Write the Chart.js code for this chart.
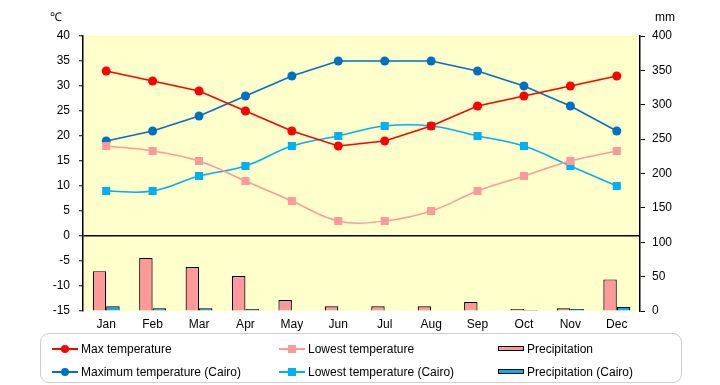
<!DOCTYPE html>
<html>
<head>
<meta charset="utf-8">
<script src="https://cdn.jsdelivr.net/npm/chart.js@4.4.1/dist/chart.umd.min.js"></script>
<style>
  body { margin: 0; background: #fff; font-family: "Liberation Sans", Arial, sans-serif; }
  #wrap { position: relative; width: 720px; height: 385px; }
  #legend {
    position: absolute; left: 40px; top: 333px; width: 642px; height: 50px;
    border: 1.5px solid #cccccc; border-radius: 9px; box-sizing: border-box;
  }
  .item { position: absolute; font-size: 12px; color: #000; height: 14px; line-height: 14px; white-space: nowrap; }
  .sample { position: absolute; left: 0; top: 0; width: 26px; height: 14px; }
  .line { position: absolute; left: 0; top: 6px; width: 26px; height: 1.5px; }
  .mark { position: absolute; left: 9px; top: 3px; width: 8px; height: 8px; }
  .box { position: absolute; left: 0; top: 4px; width: 26px; height: 5px; border: 1.2px solid #000; box-sizing: border-box; }
  .txt { position: absolute; left: 29px; top: 0; }
</style>
</head>
<body>
<div id="wrap">
  <canvas id="chart" width="720" height="385"></canvas>
  <div id="legend"></div>
</div>
<script>
const months = ['Jan', 'Feb', 'Mar', 'Apr', 'May', 'Jun', 'Jul', 'Aug', 'Sep', 'Oct', 'Nov', 'Dec'];
const maxTemp = [33, 31, 29, 25, 21, 18, 19, 22, 26, 28, 30, 32];
const minTemp = [18, 17, 15, 11, 7, 3, 3, 5, 9, 12, 15, 17];
const cairoMax = [19, 21, 24, 28, 32, 35, 35, 35, 33, 30, 26, 21];
const cairoMin = [9, 9, 12, 14, 18, 20, 22, 22, 20, 18, 14, 10];
const rain = [58, 77, 64, 51, 16, 7, 7, 7, 13, 3, 4, 46];
const cairoRain = [7, 4, 4, 3, 0, 0, 0, 0, 0, 1.5, 3, 6];
const tempTicks = { min: -15, max: 40, step: 5 };
const rainTicks = { min: 0, max: 400, step: 50 };

const RED = '#ff0000', PINK = '#ff9999', BLUE = '#0070c0', CYAN = '#00b0f0';

// yellow plot background and axis unit labels
const plotDeco = {
  id: 'plotDeco',
  beforeDraw(chart) {
    const { ctx, chartArea: a } = chart;
    ctx.save();
    ctx.fillStyle = '#ffffcc';
    ctx.fillRect(a.left, a.top, a.right - a.left, a.bottom - a.top);
    ctx.strokeStyle = '#ffff99';
    ctx.lineWidth = 1;
    ctx.beginPath();
    ctx.moveTo(a.left, a.top + 0.5);
    ctx.lineTo(a.right, a.top + 0.5);
    ctx.stroke();
    ctx.restore();
  },
  afterDraw(chart) {
    const { ctx } = chart;
    ctx.save();
    ctx.fillStyle = '#000';
    ctx.font = '12px "Liberation Sans", Arial, sans-serif';
    ctx.textBaseline = 'middle';
    ctx.textAlign = 'left';
    ctx.fillText('℃', 50, 18);
    ctx.fillText('mm', 655, 18);
    ctx.restore();
  }
};

const tickFont = { family: '"Liberation Sans", Arial, sans-serif', size: 12 };

new Chart(document.getElementById('chart'), {
  data: {
    labels: months,
    datasets: [
      { type: 'line', label: 'Max temperature', data: maxTemp, yAxisID: 'y', order: 1,
        borderColor: RED, backgroundColor: RED, borderWidth: 1.5, tension: 0,
        pointStyle: 'circle', pointRadius: 4.5, pointBorderWidth: 0 },
      { type: 'line', label: 'Lowest temperature', data: minTemp, yAxisID: 'y', order: 1,
        borderColor: PINK, backgroundColor: PINK, borderWidth: 1.5, tension: 0.4,
        pointStyle: 'rect', pointRadius: 5.7, pointBorderWidth: 0 },
      { type: 'bar', label: 'Precipitation', data: rain, yAxisID: 'y1', order: 2,
        backgroundColor: PINK, borderColor: '#000', borderWidth: 1.2,
        barPercentage: 1, categoryPercentage: 0.58 },
      { type: 'line', label: 'Maximum temperature (Cairo)', data: cairoMax, yAxisID: 'y', order: 1,
        borderColor: BLUE, backgroundColor: BLUE, borderWidth: 1.5, tension: 0,
        pointStyle: 'circle', pointRadius: 4.5, pointBorderWidth: 0 },
      { type: 'line', label: 'Lowest temperature (Cairo)', data: cairoMin, yAxisID: 'y', order: 1,
        borderColor: CYAN, backgroundColor: CYAN, borderWidth: 1.5, tension: 0.4,
        pointStyle: 'rect', pointRadius: 5.7, pointBorderWidth: 0 },
      { type: 'bar', label: 'Precipitation (Cairo)', data: cairoRain, yAxisID: 'y1', order: 2,
        backgroundColor: CYAN, borderColor: '#000', borderWidth: 1.2,
        barPercentage: 1, categoryPercentage: 0.58 }
    ]
  },
  options: {
    responsive: false,
    animation: false,
    layout: { padding: { top: 36, left: 0, right: 0, bottom: 0 } },
    plugins: { legend: { display: false }, tooltip: { enabled: false } },
    scales: {
      x: {
        offset: true,
        grid: { display: false, drawTicks: false },
        border: { display: false },
        ticks: { color: '#000', font: tickFont, padding: 6, maxRotation: 0 },
        afterFit(s) { s.height = 74; }
      },
      y: {
        position: 'left',
        min: tempTicks.min, max: tempTicks.max,
        ticks: { stepSize: tempTicks.step, color: '#000', font: tickFont, padding: 9 },
        grid: {
          color: c => c.tick && c.tick.value === 0 ? '#000' : 'rgba(0,0,0,0)',
          lineWidth: 1.5,
          tickColor: '#000', tickLength: 4, tickWidth: 1
        },
        border: { display: true, color: '#000', width: 1.5 },
        afterFit(s) { s.width = 83; }
      },
      y1: {
        position: 'right',
        min: rainTicks.min, max: rainTicks.max,
        ticks: { stepSize: rainTicks.step, color: '#000', font: tickFont, padding: 7 },
        grid: { drawOnChartArea: false, tickColor: '#000', tickLength: 5, tickWidth: 1 },
        border: { display: true, color: '#000', width: 1.5 },
        afterFit(s) { s.width = 80; }
      }
    }
  },
  plugins: [plotDeco]
});

// legend laid out in three columns like the original
const legendItems = [
  { text: 'Max temperature', kind: 'line', color: RED, mark: 'circle', x: 11, y: 8 },
  { text: 'Lowest temperature', kind: 'line', color: PINK, mark: 'rect', x: 238, y: 8 },
  { text: 'Precipitation', kind: 'box', color: PINK, x: 457, y: 8 },
  { text: 'Maximum temperature (Cairo)', kind: 'line', color: BLUE, mark: 'circle', x: 11, y: 31 },
  { text: 'Lowest temperature (Cairo)', kind: 'line', color: CYAN, mark: 'rect', x: 238, y: 31 },
  { text: 'Precipitation (Cairo)', kind: 'box', color: CYAN, x: 457, y: 31 }
];
const legend = document.getElementById('legend');
legend.innerHTML = legendItems.map(it => {
  let sample;
  if (it.kind === 'line') {
    const r = it.mark === 'circle' ? 'border-radius:50%;' : '';
    sample = `<div class="sample"><div class="line" style="background:${it.color}"></div>` +
      `<div class="mark" style="background:${it.color};${r}"></div></div>`;
  } else {
    sample = `<div class="sample"><div class="box" style="background:${it.color}"></div></div>`;
  }
  return `<div class="item" style="left:${it.x}px;top:${it.y}px">${sample}<span class="txt">${it.text}</span></div>`;
}).join('');
</script>
</body>
</html>
